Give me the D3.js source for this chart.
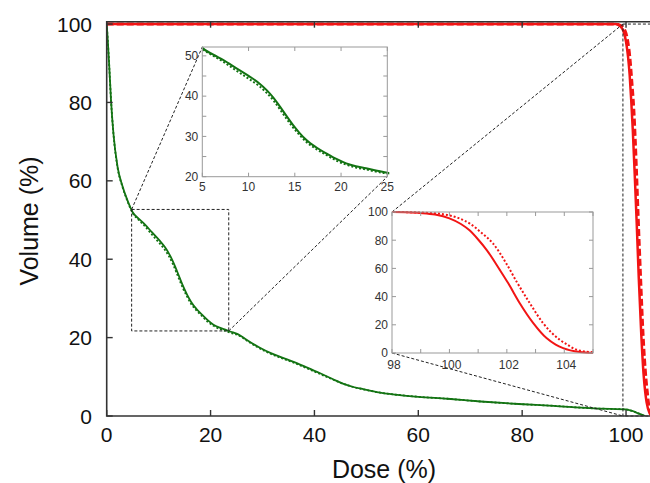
<!DOCTYPE html>
<html><head><meta charset="utf-8">
<script src="https://cdn.jsdelivr.net/npm/d3@7"></script>
<style>body{margin:0;background:#fff}svg{display:block}text{font-family:"Liberation Sans",Arial,sans-serif}</style>
</head><body><svg id="c" width="650" height="483"></svg>
<script>
// ---- data (dose %, volume %) ----
const greenSolid = [[0,100],[0.2,96],[0.5,89],[0.83,80.6],[1.3,72],[2.1,63.5],[3.0,58.8],[4.0,55],[5.0,52],[6.2,50.3],[7.29,48.96],[8.7,46.9],[10.16,44.8],[11.2,43.1],[11.96,41.5],[12.7,39.6],[13.4,37.4],[14.1,35.1],[14.82,32.8],[15.5,30.9],[16.26,29.1],[17.3,27.3],[18.4,25.8],[19.5,24.4],[20.56,23.3],[21.6,22.6],[22.7,22.1],[23.9,21.5],[25,21.0],[27.6,18.9],[29.5,17.4],[31.5,16.1],[33.8,14.9],[36,13.8],[38.5,12.4],[41.1,10.9],[43.4,9.5],[45.6,8.2],[47.5,7.4],[49.5,6.8],[52,6.1],[56,5.4],[60,4.9],[65.6,4.4],[72,3.7],[79.3,3.06],[86,2.6],[93,2.0],[97,1.8],[99.9,1.7],[101.2,1.3],[102.5,0.6],[103.7,0]];
const greenDotted = [[0,100],[0.2,96],[0.5,89],[0.83,80.6],[1.3,72],[2.1,63.3],[3.0,58.6],[4.0,54.8],[5.0,51.8],[6.2,50.0],[7.29,48.5],[8.7,46.3],[10.16,44.1],[11.2,42.4],[11.96,40.8],[12.7,38.9],[13.4,36.7],[14.1,34.4],[14.82,32.2],[15.5,30.4],[16.26,28.6],[17.3,26.9],[18.4,25.4],[19.5,24.0],[20.56,23.0],[21.6,22.3],[22.7,21.8],[23.9,21.2],[25,20.8],[27.6,18.7],[29.5,17.2],[31.5,15.9],[33.8,14.7],[36,13.6],[38.5,12.2],[41.1,10.7],[43.4,9.4],[45.6,8.2],[47.5,7.4],[49.5,6.8],[52,6.1],[56,5.4],[60,4.9],[65.6,4.4],[72,3.7],[79.3,3.06],[86,2.6],[93,2.0],[97,1.8],[99.9,1.7],[101.2,1.3],[102.5,0.6],[103.7,0]];
const redSolid = [[0,100],[98,100],[98.5,99.8],[99,99.3],[99.5,98.2],[100,95.5],[100.4,91.5],[100.7,87],[101,80.5],[101.3,73],[101.76,58.8],[102.05,49.4],[102.45,35.3],[102.92,21.2],[103.38,10.6],[103.7,6],[103.96,3.5],[104.54,0.7],[105,0]];
const redDotted = [[0,100],[98,100],[98.5,99.9],[99,99.6],[99.78,98.4],[100.3,95.8],[100.71,91.8],[101.1,85.5],[101.52,77.6],[101.98,63.5],[102.34,50.6],[102.8,35.3],[103.26,21.2],[103.84,9.4],[104.1,6],[104.42,2.4],[105,0.5]];
const mainXTicks = [0,20,40,60,80,100];
const mainYTicks = [0,20,40,60,80,100];
const inset1XTicks = [5,10,15,20,25];
const inset1YTicks = [20,25,30,35,40,45,50];
const inset1YLabels = [20,30,40,50];
const inset2XTicks = [98,99,100,101,102,103,104,105];
const inset2XLabels = [98,100,102,104];
const inset2YTicks = [0,20,40,60,80,100];
const zoomBox1 = {x:[4.8,23.5], y:[21.7,52.7]};
const zoomBox2 = {x:[99.4,106], y:[0,100]};

const svg = d3.select("#c");
const GREEN = "#137313", RED = "#f21414", AX = "#333";

// ---- main plot ----
const x = d3.scaleLinear().domain([0,105]).range([106.7,652]);
const y = d3.scaleLinear().domain([0,100.6]).range([416,21.7]);
const line = (sx,sy)=>d3.line().x(d=>sx(d[0])).y(d=>sy(d[1])).curve(d3.curveMonotoneX);

svg.append("clipPath").attr("id","mclip").append("rect")
  .attr("x",x(0)).attr("y",y(100.6)).attr("width",x(105)-x(0)).attr("height",y(0)-y(100.6));
const mg = svg.append("g").attr("clip-path","url(#mclip)");

const dash = {"stroke":"#222","stroke-width":1,"stroke-dasharray":"3,2","fill":"none"};
function styl(sel,o){for(const k in o) sel.attr(k,o[k]); return sel;}

mg.append("path").attr("d",line(x,y)(greenDotted)).attr("fill","none").attr("stroke",GREEN).attr("stroke-width",1.8).attr("stroke-dasharray","2,2");
mg.append("path").attr("d",line(x,y)(greenSolid)).attr("fill","none").attr("stroke",GREEN).attr("stroke-width",1.8);
mg.append("path").attr("d",line(x,y)(redSolid)).attr("fill","none").attr("stroke",RED).attr("stroke-width",2.5);
mg.append("path").attr("d",line(x,y)(redDotted)).attr("fill","none").attr("stroke",RED).attr("stroke-width",3).attr("stroke-dasharray","7,3");

styl(svg.append("rect").attr("x",x(zoomBox1.x[0])).attr("y",y(zoomBox1.y[1]))
  .attr("width",x(zoomBox1.x[1])-x(zoomBox1.x[0])).attr("height",y(zoomBox1.y[0])-y(zoomBox1.y[1])),dash);
styl(svg.append("rect").attr("x",x(zoomBox2.x[0])).attr("y",y(zoomBox2.y[1]))
  .attr("width",x(zoomBox2.x[1])-x(zoomBox2.x[0])).attr("height",y(zoomBox2.y[0])-y(zoomBox2.y[1])),dash);

// frame
svg.append("path").attr("d",`M${x(105)},${y(100.6)}H${x(0)}V${y(0)}H${x(105)}`)
  .attr("fill","none").attr("stroke",AX).attr("stroke-width",1.6);
const tg = svg.append("g").attr("stroke",AX).attr("stroke-width",1.4);
mainXTicks.forEach(t=>{
  tg.append("line").attr("x1",x(t)).attr("x2",x(t)).attr("y1",y(0)).attr("y2",y(0)-6);
  tg.append("line").attr("x1",x(t)).attr("x2",x(t)).attr("y1",y(100.6)).attr("y2",y(100.6)+6);
});
mainYTicks.forEach(t=>{
  tg.append("line").attr("x1",x(0)).attr("x2",x(0)+6).attr("y1",y(t)).attr("y2",y(t));
});
svg.append("g").selectAll("text").data(mainXTicks).join("text")
  .attr("x",d=>x(d)).attr("y",442).attr("text-anchor","middle").attr("font-size",21).attr("fill","#111").text(d=>d);
svg.append("g").selectAll("text").data(mainYTicks).join("text")
  .attr("x",92).attr("y",d=>y(d)+7.5).attr("text-anchor","end").attr("font-size",21).attr("fill","#111").text(d=>d);
svg.append("text").attr("x",384).attr("y",478).attr("text-anchor","middle").attr("font-size",25).attr("fill","#111").text("Dose (%)");
svg.append("text").attr("transform","translate(38,221) rotate(-90)").attr("text-anchor","middle").attr("font-size",25).attr("fill","#111").text("Volume (%)");

// ---- insets ----
const x1 = d3.scaleLinear().domain([5,25]).range([202.3,387.3]);
const y1 = d3.scaleLinear().domain([20,52.2]).range([176.7,47]);
const x2 = d3.scaleLinear().domain([98,105]).range([392,593]);
const y2 = d3.scaleLinear().domain([0,100]).range([353,212]);

[[x(zoomBox1.x[0]),y(zoomBox1.y[1]),x1(5),y1(52.2)],
 [x(zoomBox1.x[1]),y(zoomBox1.y[0]),x1(25),y1(20)],
 [x2(98),y2(100),x(zoomBox2.x[0]),y(100)],
 [x2(98),y2(0),x(zoomBox2.x[0]),y(0)]].forEach(c=>{
  styl(svg.append("line").attr("x1",c[0]).attr("y1",c[1]).attr("x2",c[2]).attr("y2",c[3]),dash);
});

function inset(id,sx,sy,xd,yd,xt,xl,yt,yl,series,fs,xdy,xdx){
  const g = svg.append("g");
  g.append("rect").attr("x",sx(xd[0])).attr("y",sy(yd[1])).attr("width",sx(xd[1])-sx(xd[0])).attr("height",sy(yd[0])-sy(yd[1])).attr("fill","#fff");
  g.append("clipPath").attr("id",id).append("rect").attr("x",sx(xd[0])).attr("y",sy(yd[1])-3).attr("width",sx(xd[1])-sx(xd[0])+2).attr("height",sy(yd[0])-sy(yd[1])+4);
  const cg = g.append("g").attr("clip-path",`url(#${id})`);
  series.forEach(s=>{
    const p = cg.append("path").attr("d",line(sx,sy)(s.d)).attr("fill","none").attr("stroke",s.c).attr("stroke-width",s.w);
    if(s.da) p.attr("stroke-dasharray",s.da);
  });
  g.append("rect").attr("x",sx(xd[0])).attr("y",sy(yd[1])).attr("width",sx(xd[1])-sx(xd[0])).attr("height",sy(yd[0])-sy(yd[1])).attr("fill","none").attr("stroke","#999").attr("stroke-width",1);
  const t = g.append("g").attr("stroke","#999").attr("stroke-width",1);
  xt.forEach(v=>{
    t.append("line").attr("x1",sx(v)).attr("x2",sx(v)).attr("y1",sy(yd[0])).attr("y2",sy(yd[0])-4);
    t.append("line").attr("x1",sx(v)).attr("x2",sx(v)).attr("y1",sy(yd[1])).attr("y2",sy(yd[1])+4);
  });
  yt.forEach(v=>{
    t.append("line").attr("x1",sx(xd[0])).attr("x2",sx(xd[0])+4).attr("y1",sy(v)).attr("y2",sy(v));
    t.append("line").attr("x1",sx(xd[1])).attr("x2",sx(xd[1])-4).attr("y1",sy(v)).attr("y2",sy(v));
  });
  g.append("g").selectAll("text").data(xl).join("text").attr("x",d=>sx(d)+xdx).attr("y",sy(yd[0])+xdy)
    .attr("text-anchor","middle").attr("font-size",fs).attr("fill","#333").text(d=>d);
  g.append("g").selectAll("text").data(yl).join("text").attr("x",sx(xd[0])-4).attr("y",d=>sy(d)+4.3)
    .attr("text-anchor","end").attr("font-size",fs).attr("fill","#333").text(d=>d);
}
inset("i1",x1,y1,[5,25],[20,52.2],inset1XTicks,inset1XTicks,inset1YTicks,inset1YLabels,
  [{d:greenDotted,c:GREEN,w:2,da:"2,2"},{d:greenSolid,c:GREEN,w:2}],12,14,0);
inset("i2",x2,y2,[98,105],[0,100],inset2XTicks,inset2XLabels,inset2YTicks,inset2YTicks,
  [{d:redDotted,c:RED,w:2,da:"2,2"},{d:redSolid,c:RED,w:2}],12,15.5,2);
</script></body></html>
